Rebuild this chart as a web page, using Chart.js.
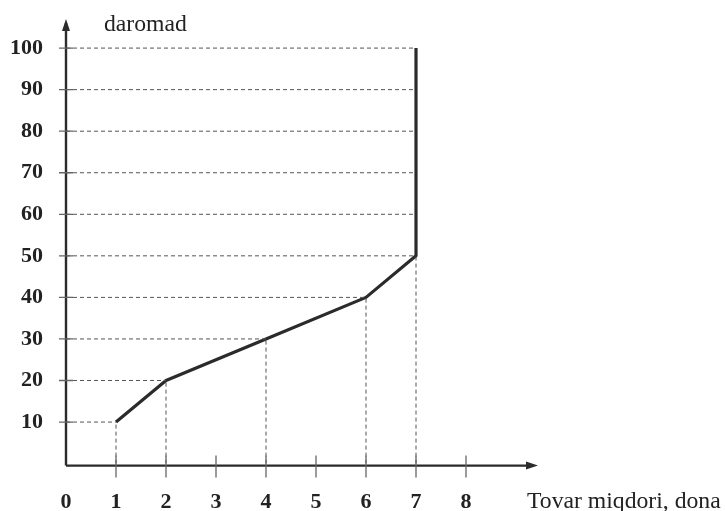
<!DOCTYPE html>
<html>
<head>
<meta charset="utf-8">
<script src="https://cdn.jsdelivr.net/npm/chart.js@4/dist/chart.umd.min.js"></script>
<style>
  body { margin: 0; background: #fff; }
</style>
</head>
<body>
<canvas id="mycanvas" width="725" height="511"></canvas>
<script>
// data
var qty = [1, 2, 4, 6, 7, 7];
var income = [10, 20, 30, 40, 50, 100];
var yTicks = [10, 20, 30, 40, 50, 60, 70, 80, 90, 100];
var xTicks = [0, 1, 2, 3, 4, 5, 6, 7, 8];
// where each horizontal guide line stops
var guideEnd = [1, 2, 4, 6, 7, 7, 7, 7, 7, 7];
var yTitle = 'daromad';
var xTitle = 'Tovar miqdori, dona';

var ink = '#2b2b2b';
var serif = "'Liberation Serif', 'DejaVu Serif', serif";

var datasets = [];
// dashed horizontal guides
for (var i = 0; i < yTicks.length; i++) {
	datasets.push({
		data: [{x: 0, y: yTicks[i]}, {x: guideEnd[i], y: yTicks[i]}],
		borderColor: '#555',
		borderWidth: 1,
		borderDash: [4, 3],
		pointRadius: 0
	});
}
// dashed vertical drops
for (var j = 0; j < 5; j++) {
	datasets.push({
		data: [{x: qty[j], y: 0}, {x: qty[j], y: income[j]}],
		borderColor: '#555',
		borderWidth: 1,
		borderDash: [4, 3],
		pointRadius: 0
	});
}
// main line
datasets.push({
	data: qty.map(function(q, k){ return {x: q, y: income[k]}; }),
	borderColor: ink,
	borderWidth: 3.2,
	borderJoinStyle: 'round',
	pointRadius: 0,
	tension: 0
});

var axesPlugin = {
	id: 'axes',
	afterDatasetsDraw: function(chart){
		var c = chart.ctx, xs = chart.scales.x, ys = chart.scales.y;
		var x0 = xs.getPixelForValue(0), y0 = ys.getPixelForValue(0) + 2;
		var xEnd = chart.chartArea.right, yEnd = chart.chartArea.top;
		c.save();
		c.strokeStyle = ink;
		c.fillStyle = ink;
		c.lineWidth = 2.4;
		c.beginPath();
		c.moveTo(x0, y0); c.lineTo(x0, yEnd + 4);
		c.moveTo(x0, y0); c.lineTo(xEnd - 4, y0);
		c.stroke();
		// arrows
		c.beginPath();
		c.moveTo(x0, yEnd); c.lineTo(x0 - 4, yEnd + 12); c.lineTo(x0 + 4, yEnd + 12); c.closePath();
		c.moveTo(xEnd, y0); c.lineTo(xEnd - 12, y0 - 4); c.lineTo(xEnd - 12, y0 + 4); c.closePath();
		c.fill();
		// tick marks
		c.lineWidth = 1.3;
		c.strokeStyle = '#666';
		c.beginPath();
		yTicks.forEach(function(v){
			var py = ys.getPixelForValue(v);
			c.moveTo(x0 - 7, py); c.lineTo(x0 + 7, py);
		});
		xTicks.slice(1).forEach(function(v){
			var px = xs.getPixelForValue(v);
			c.moveTo(px, y0 - 10); c.lineTo(px, y0 + 12);
		});
		c.stroke();
		// titles
		c.fillStyle = '#222';
		c.font = '23.7px ' + serif;
		c.textBaseline = 'alphabetic';
		c.textAlign = 'left';
		c.fillText(yTitle, 104, 31);
		c.fillText(xTitle, 527, 508);
		c.restore();
	}
};

var ctx = document.getElementById('mycanvas');
var chart = new Chart(ctx, {
	type: 'line',
	data: { datasets: datasets },
	options: {
		responsive: false,
		animation: false,
		layout: { padding: { top: 19, right: 187, bottom: 0, left: 0 } },
		plugins: { legend: { display: false }, tooltip: { enabled: false } },
		scales: {
			x: {
				type: 'linear',
				min: 0,
				max: 9.44,
				afterFit: function(s){ s.height = 47.4; s.paddingLeft = 0; s.paddingRight = 0; },
				afterBuildTicks: function(s){ s.ticks = xTicks.map(function(v){ return {value: v}; }); },
				grid: { display: false, drawTicks: false },
				border: { display: false },
				ticks: {
					padding: 26,
					color: '#222',
					maxRotation: 0,
					autoSkip: false,
					font: { family: serif, size: 22, weight: 'bold' }
				}
			},
			y: {
				min: 0,
				max: 107,
				afterFit: function(s){ s.width = 66; s.paddingTop = 0; s.paddingBottom = 0; },
				afterBuildTicks: function(s){ s.ticks = yTicks.map(function(v){ return {value: v}; }); },
				grid: { display: false, drawTicks: false },
				border: { display: false },
				ticks: {
					padding: 23,
					color: '#222',
					autoSkip: false,
					font: { family: serif, size: 22, weight: 'bold' }
				}
			}
		}
	},
	plugins: [axesPlugin]
});
</script>
</body>
</html>
